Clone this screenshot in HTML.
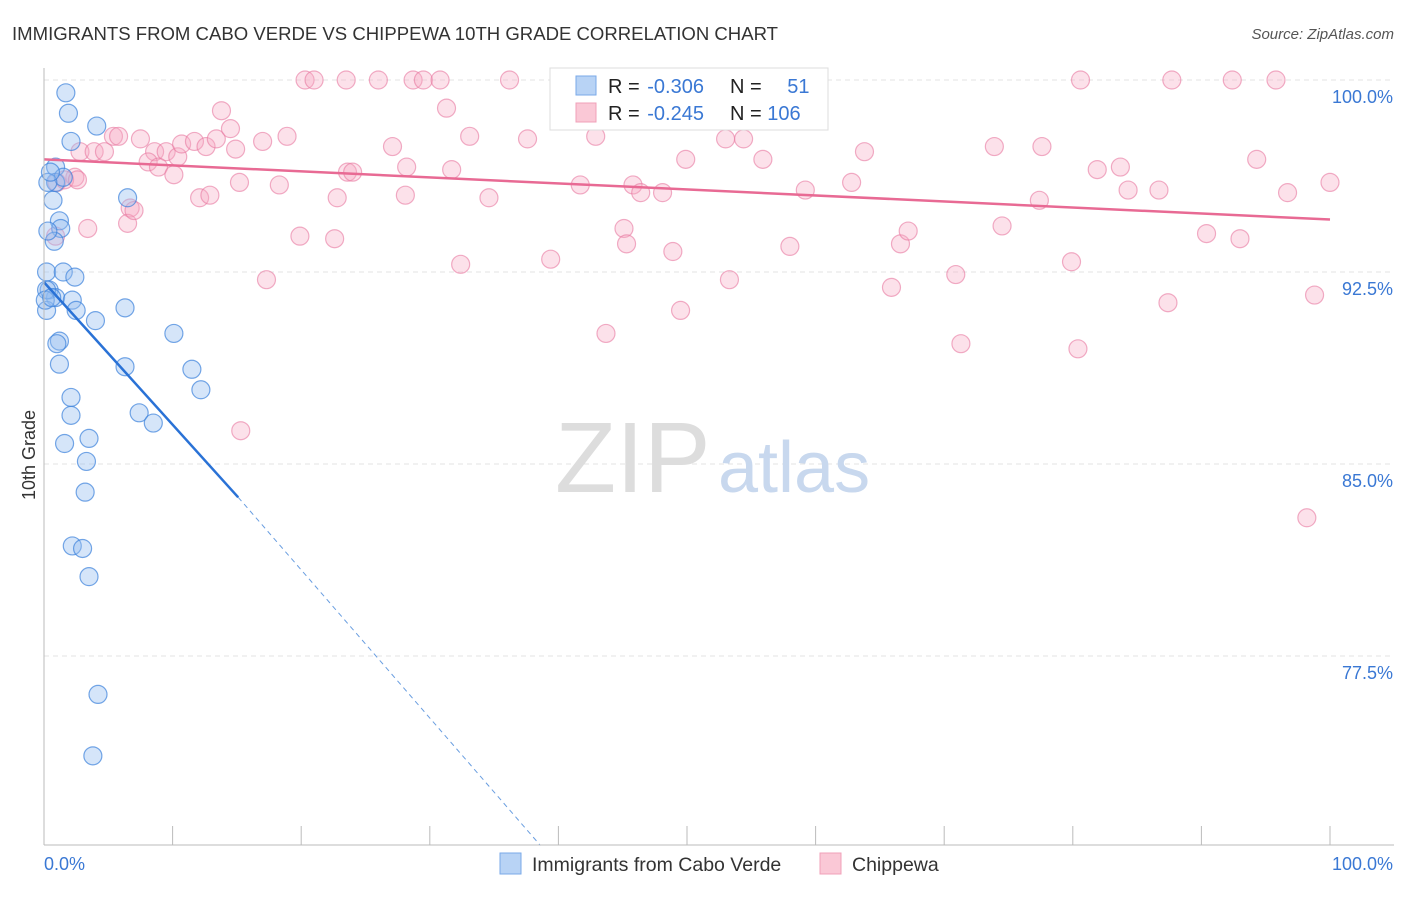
<!DOCTYPE html>
<html><head><meta charset="utf-8"><style>
body{margin:0;background:#fff;font-family:"Liberation Sans",sans-serif;}
svg text{font-family:"Liberation Sans",sans-serif;}
</style></head><body>
<svg id="chart" width="1406" height="892" viewBox="0 0 1406 892">
<text x="12" y="40" font-size="18.5" fill="#333" textLength="766" lengthAdjust="spacingAndGlyphs">IMMIGRANTS FROM CABO VERDE VS CHIPPEWA 10TH GRADE CORRELATION CHART</text>
<text x="1394" y="39" font-size="15" fill="#555" text-anchor="end" font-style="italic">Source: ZipAtlas.com</text>
<g id="grid"></g>
<text x="555" y="492" font-size="100" fill="#ddd" font-family="Liberation Serif">ZIP</text>
<text x="718" y="492" font-size="72" fill="#c8d8ee">atlas</text>
<g id="pts"></g>
<g id="axes"></g>
<text x="35" y="455" font-size="18" fill="#333" text-anchor="middle" transform="rotate(-90 35 455)">10th Grade</text>
<g>
<rect x="550" y="68" width="278" height="62" fill="#fff" stroke="#ddd"/>
<rect x="576" y="76" width="20" height="19" fill="#b8d3f5" stroke="#7aaae8"/>
<rect x="576" y="103" width="20" height="19" fill="#fac8d6" stroke="#f0a0b8"/>
<text x="608" y="93" font-size="20" fill="#222">R = <tspan fill="#3a78d4" dx="2">-0.306</tspan></text>
<text x="730" y="93" font-size="20" fill="#222">N = <tspan fill="#3a78d4" dx="20">51</tspan></text>
<text x="608" y="120" font-size="20" fill="#222">R = <tspan fill="#3a78d4" dx="2">-0.245</tspan></text>
<text x="730" y="120" font-size="20" fill="#222">N = <tspan fill="#3a78d4">106</tspan></text>
</g>
<g>
<rect x="500" y="853" width="21" height="21" fill="#b8d3f5" stroke="#7aaae8"/>
<text x="532" y="871" font-size="19.5" fill="#333">Immigrants from Cabo Verde</text>
<rect x="820" y="853" width="21" height="21" fill="#fac8d6" stroke="#f0a0b8"/>
<text x="852" y="871" font-size="19.5" fill="#333">Chippewa</text>
</g>
</svg>
<script>
const yTicks=[100,92.5,85,77.5];
const yTickLabels=["100.0%","92.5%","85.0%","77.5%"];
const blueX=[1.7,1.9,2.1,4.1,0.9,6.5,0.7,1.2,1.3,0.8,0.3,0.2,1.5,2.4,0.4,0.9,2.2,2.5,4.0,6.3,0.2,1.2,1.0,1.2,10.1,6.3,11.5,2.1,12.2,7.4,2.1,8.5,3.5,1.6,3.3,3.2,2.2,3.0,3.5,4.2,3.8,0.9,1.5,0.3,0.5,0.2,0.1,0.6];
const blueY=[99.5,98.7,97.6,98.2,96.6,95.4,95.3,94.5,94.2,93.7,94.1,92.5,92.5,92.3,91.8,91.5,91.4,91.0,90.6,91.1,91.0,89.8,89.7,88.9,90.1,88.8,88.7,87.6,87.9,87.0,86.9,86.6,86.0,85.8,85.1,83.9,81.8,81.7,80.6,76.0,73.6,96.0,96.2,96.0,96.4,91.8,91.4,91.5];
const pinkX=[20.3,21,23.5,26,28.7,29.5,30.8,36.2,80.6,87.7,92.4,95.8,13.8,31.3,5.4,5.8,7.5,2.8,3.9,4.7,8.6,9.5,10.4,10.7,11.7,12.6,13.4,14.5,14.9,17,18.9,27.1,33.1,37.6,42.9,53,54.4,55.9,49.9,63.8,73.9,77.6,94.3,83.7,81.9,8.1,8.9,10.1,15.2,18.3,23.6,24,28.2,31.7,6.7,12.1,12.9,22.8,28.1,34.6,41.7,45.8,46.4,48.1,59.2,62.8,77.4,84.3,86.7,100,96.7,3.4,6.5,7,19.9,22.6,45.1,45.3,48.9,58,66.6,67.2,74.5,90.4,93,17.3,32.4,39.4,53.3,65.9,70.9,79.9,43.7,49.5,87.4,98.8,71.3,80.4,15.3,98.2,0.9,1.0,2.4,1.6,2.6,51];
const pinkY=[100,100,100,100,100,100,100,100,100,100,100,100,98.8,98.9,97.8,97.8,97.7,97.2,97.2,97.2,97.2,97.2,97,97.5,97.6,97.4,97.7,98.1,97.3,97.6,97.8,97.4,97.8,97.7,97.8,97.7,97.7,96.9,96.9,97.2,97.4,97.4,96.9,96.6,96.5,96.8,96.6,96.3,96.0,95.9,96.4,96.4,96.6,96.5,95,95.4,95.5,95.4,95.5,95.4,95.9,95.9,95.6,95.6,95.7,96.0,95.3,95.7,95.7,96.0,95.6,94.2,94.4,94.9,93.9,93.8,94.2,93.6,93.3,93.5,93.6,94.1,94.3,94.0,93.8,92.2,92.8,93,92.2,91.9,92.4,92.9,90.1,91.0,91.3,91.6,89.7,89.5,86.3,82.9,93.9,96.0,96.2,96.1,96.1,99.2];
const ns="http://www.w3.org/2000/svg";
const X0=44,X1=1330,YT=80,PXP=25.6;
const sx=v=>X0+(X1-X0)*v/100;
const sy=v=>YT+(100-v)*PXP;
function mk(tag,attrs,parent){const e=document.createElementNS(ns,tag);for(const k in attrs)e.setAttribute(k,attrs[k]);parent.appendChild(e);return e;}
const grid=document.getElementById('grid'),axes=document.getElementById('axes'),pts=document.getElementById('pts');
yTicks.forEach((t,i)=>{
 const l=mk('line',{x1:X0,x2:1394,y1:sy(t),y2:sy(t),stroke:'#e3e3e3','stroke-dasharray':'5,4'},grid);
 
 
 const tx=mk('text',{x:1393,y:sy(t)+23,'font-size':18,fill:'#3a78d4','text-anchor':'end'},axes);
 tx.textContent=yTickLabels[i];
 
 
});
const ax=mk('line',{x1:X0,x2:1394,y1:845,y2:845,stroke:'#bbb'},axes);


const ay=mk('line',{x1:X0,x2:X0,y1:68,y2:845,stroke:'#bbb'},axes);


for(let i=0;i<=10;i++){
 const t=mk('line',{x1:sx(i*10),x2:sx(i*10),y1:826,y2:845,stroke:'#bbb'},axes);
 
 
}
const xl=mk('text',{x:44,y:870,'font-size':18,fill:'#3a78d4'},axes);xl.textContent='0.0%';


const xr=mk('text',{x:1393,y:870,'font-size':18,fill:'#3a78d4','text-anchor':'end'},axes);xr.textContent='100.0%';


pinkX.forEach((v,i)=>{
 const c=mk('circle',{cx:sx(v),cy:sy(pinkY[i]),r:9,fill:'rgba(246,170,196,0.35)',stroke:'rgba(232,120,160,0.6)','stroke-width':1.2},pts);
 
 
});
blueX.forEach((v,i)=>{
 const c=mk('circle',{cx:sx(v),cy:sy(blueY[i]),r:9,fill:'rgba(150,190,240,0.4)',stroke:'rgba(60,130,220,0.7)','stroke-width':1.2},pts);
 
 
});
const pl=mk('line',{x1:sx(0),y1:sy(96.9),x2:sx(100),y2:sy(94.55),stroke:'#e86a94','stroke-width':2.5},pts);


const bl=mk('line',{x1:sx(0),y1:sy(92.1),x2:sx(15.1),y2:sy(83.7),stroke:'#2a72d6','stroke-width':2.5},pts);


const bd=mk('line',{x1:sx(15.1),y1:sy(83.7),x2:sx(38.6),y2:sy(70.1),stroke:'#6a9ee0','stroke-width':1,'stroke-dasharray':'5,4'},pts);


</script>
</body></html>
